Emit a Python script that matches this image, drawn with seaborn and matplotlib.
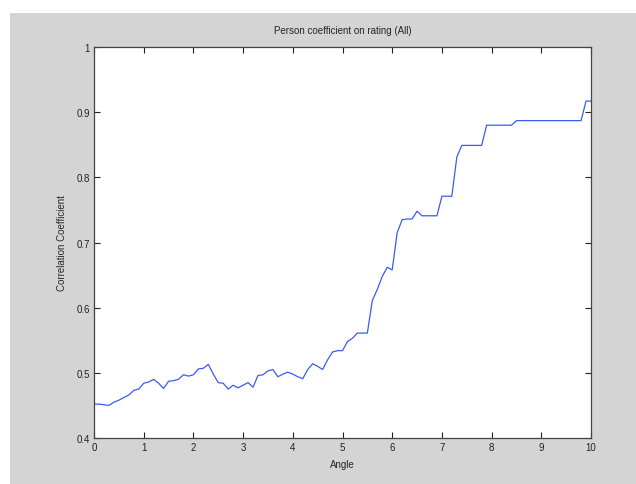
import matplotlib
matplotlib.use("Agg")
import matplotlib.pyplot as plt
from matplotlib.patches import Rectangle
import numpy as np
import pandas as pd
import seaborn as sns

# values, one per 0.1 step of angle
angle = [round(i * 0.1, 1) for i in range(101)]
corr = [
    0.452, 0.452, 0.451, 0.450, 0.455, 0.458, 0.462, 0.466, 0.473, 0.475,
    0.484, 0.486, 0.490, 0.484, 0.476, 0.487, 0.488, 0.490, 0.497, 0.495,
    0.497, 0.506, 0.507, 0.513, 0.498, 0.485, 0.484, 0.475, 0.481, 0.477,
    0.481, 0.485, 0.478, 0.496, 0.497, 0.503, 0.505, 0.494, 0.498, 0.501,
    0.498, 0.494, 0.491, 0.505, 0.514, 0.510, 0.505, 0.520, 0.532, 0.534,
    0.534, 0.548, 0.553, 0.561, 0.561, 0.561, 0.611, 0.628, 0.648, 0.662,
    0.658, 0.715, 0.735, 0.736, 0.736, 0.748, 0.741, 0.741, 0.741, 0.741,
    0.771, 0.771, 0.771, 0.831, 0.849, 0.849, 0.849, 0.849, 0.849, 0.880,
    0.880, 0.880, 0.880, 0.880, 0.880, 0.887, 0.887, 0.887, 0.887, 0.887,
    0.887, 0.887, 0.887, 0.887, 0.887, 0.887, 0.887, 0.887, 0.887, 0.917,
    0.917,
]
xticks = list(range(11))
yticks = [0.4, 0.5, 0.6, 0.7, 0.8, 0.9, 1.0]
ytick_labels = ["0.4", "0.5", "0.6", "0.7", "0.8", "0.9", "1"]

sns.set_style("ticks")
plt.rcParams["font.family"] = ["Liberation Sans", "DejaVu Sans"]
plt.rcParams["font.size"] = 7

df = pd.DataFrame({"Angle": angle, "Correlation Coefficient": corr})

fig = plt.figure(figsize=(6.36, 4.85), dpi=100, facecolor="white")
# grey figure area like the MATLAB window
fig.patches.append(Rectangle((10 / 636, 0), 1, 1 - 14 / 485, transform=fig.transFigure,
                             facecolor="#d4d4d4", edgecolor="none", zorder=-1))
ax = fig.add_axes([94 / 636, 46 / 485, (591 - 94) / 636, (439 - 48) / 485])

sns.lineplot(data=df, x="Angle", y="Correlation Coefficient", ax=ax,
             color="#3a5cf0", linewidth=0.9)

ax.set_xlim(0, 10)
ax.set_ylim(0.4, 1.0)
ax.set_xticks(xticks)
ax.set_yticks(yticks)
ax.set_yticklabels(ytick_labels)
ax.tick_params(direction="in", top=True, right=True, length=4, width=0.8,
               labelsize=7, colors="#222222", pad=3)
for s in ax.spines.values():
    s.set_visible(True)
    s.set_color("#444444")
    s.set_linewidth(0.9)
ax.set_facecolor("white")
ax.set_title("Person coefficient on rating (All)", fontsize=7, pad=10)
ax.set_xlabel("Angle", fontsize=7, labelpad=5)
ax.set_ylabel("Correlation Coefficient", fontsize=7, labelpad=7)

fig.savefig("out.png", dpi=100, facecolor=fig.get_facecolor())
